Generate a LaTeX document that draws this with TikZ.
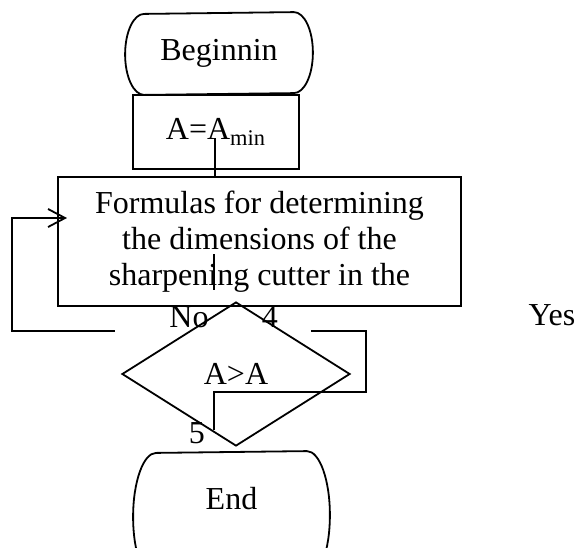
\documentclass[tikz,border=0pt]{standalone}
\usepackage{fontspec}
\setmainfont{Liberation Serif}
\usepackage{xcolor}
\definecolor{inkBlack}{HTML}{000000}
\usepackage{tikz}
\usetikzlibrary{
    shapes.geometric,
    arrows.meta,
    positioning,
    calc
}
\tikzset{
    % Base style for all nodes
    flow base/.style={
        font=\fontsize{16}{18}\selectfont,
        align=center,
        text=inkBlack,
        draw=inkBlack,
        line width=0.9pt,
        inner sep=0pt,
    },
    % Start/Stop nodes - text box, outline drawn by \terminaloutline
    terminal/.style={
        flow base,
        rectangle,
        draw=none,
    },
    % Process nodes - plain rectangle
    process/.style={
        flow base,
        rectangle,
    },
    % Decision diamond
    decision/.style={
        flow base,
        diamond,
    },
    % Plain connector
    connector/.style={
        draw=inkBlack,
        line width=0.9pt,
    },
    % Connector with open arrow head
    arrow/.style={
        connector,
        -{Straight Barb[length=8.5pt, width=9pt]},
    },
    % Label style for the branch texts and numbers
    edge label/.style={
        font=\fontsize{16}{18}\selectfont,
        text=inkBlack,
        inner sep=0pt,
    },
}
% Terminator outline: flat top and bottom, half-ellipse ends
% #1 node name, #2 end bulge, #3 half height
\newcommand{\terminaloutline}[3]{%
    \draw [connector] ([xshift=-#2]#1.north east)
        arc[start angle=90, end angle=-90, x radius=#2, y radius=#3]
        -- ([xshift=#2]#1.south west)
        arc[start angle=270, end angle=90, x radius=#2, y radius=#3]
        -- cycle;
}

\begin{document}
\begin{tikzpicture}[x=0.5pt, y=-0.5pt]
    \clip (0,0) rectangle (575,548);

    \node (begin) [terminal, minimum width=93pt, minimum height=40.5pt] at (219,53.5) {Beginnin};
    \node (amin) [process, minimum width=83pt, minimum height=37pt] at (216,132) {A=A\textsubscript{min}};
    \node (form) [process, minimum width=201.5pt, minimum height=64.5pt] at (259.5,241.5) {Formulas for determining\\the dimensions of the\\sharpening cutter in the};
    \node (test) [decision, minimum width=114pt, minimum height=72pt] at (236,374) {A>A};
    \node (end) [terminal, minimum width=97.5pt, minimum height=64pt, text depth=18pt] at (231.5,516) {End};

    \terminaloutline{begin}{9.5pt}{20.25pt}
    \terminaloutline{end}{11.5pt}{32pt}

    \node (nolabel) [edge label] at (189,317) {No};
    \node (four) [edge label] at (270,317) {4};
    \node (five) [edge label] at (197,433) {5};
    \node (yeslabel) [edge label] at (552,315) {Yes};

    \coordinate (amintail) at (215,138);
    \coordinate (formtail) at (214,254);
    \coordinate (formhead) at (214,290);
    \coordinate (notail) at (115,331);
    \coordinate (nohead) at (67,218);
    \coordinate (yestail) at (311,331);
    \coordinate (yeshead) at (214,430);

    \draw [connector] (amintail) -- (amintail |- form.north);
    \draw [connector] (formtail) -- (formhead);
    \draw [arrow] (notail) -- ++(-103,0) |- (nohead);
    \draw [connector] (yestail) -- ++(55,0) -- ++(0,61) -| (yeshead);
\end{tikzpicture}
\end{document}
